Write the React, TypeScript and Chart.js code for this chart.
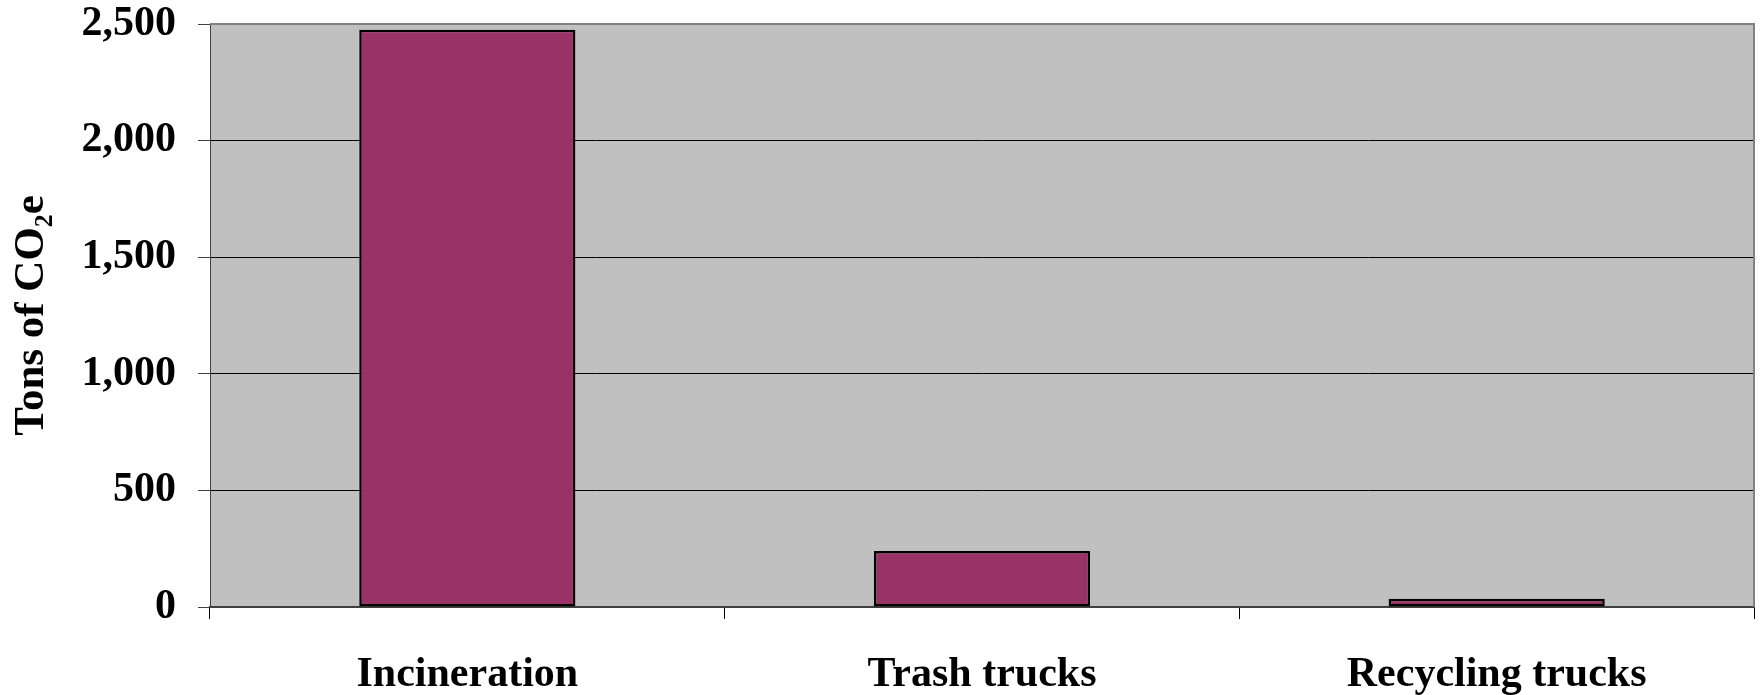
import React, { useEffect, useRef } from "react";
import { Chart, registerables } from "chart.js";

Chart.register(...registerables);

const categories = ["Incineration", "Trash trucks", "Recycling trucks"];
const tonsCO2e = [2475, 240, 35];
const yTickValues = [0, 500, 1000, 1500, 2000, 2500];
const yAxisTitle = "Tons of CO\u2082e";

const FONT = "'Liberation Serif', 'Times New Roman', serif";

const plotBackground = {
  id: "plotBackground",
  beforeDraw(chart: any) {
    const { ctx, chartArea } = chart;
    if (!chartArea) return;
    ctx.save();
    ctx.fillStyle = "#C0C0C0";
    ctx.fillRect(chartArea.left, chartArea.top, chartArea.right - chartArea.left, chartArea.bottom - chartArea.top);
    ctx.restore();
  },
  afterDatasetsDraw(chart: any) {
    const { ctx, chartArea } = chart;
    if (!chartArea) return;
    ctx.save();
    ctx.strokeStyle = "#808080";
    ctx.lineWidth = 2;
    ctx.beginPath();
    ctx.moveTo(chartArea.left, chartArea.top);
    ctx.lineTo(chartArea.right, chartArea.top);
    ctx.lineTo(chartArea.right, chartArea.bottom);
    ctx.stroke();
    ctx.restore();
  },
};

export default function App() {
  const ref = useRef<HTMLCanvasElement>(null);

  useEffect(() => {
    if (!ref.current) return;
    const chart = new Chart(ref.current, {
      type: "bar",
      data: {
        labels: categories,
        datasets: [
          {
            data: tonsCO2e,
            backgroundColor: "#993366",
            borderColor: "#000000",
            borderWidth: 2.5,
            borderSkipped: false,
            categoryPercentage: 1,
            barPercentage: 0.42,
          },
        ],
      },
      options: {
        animation: false,
        responsive: false,
        devicePixelRatio: 1,
        layout: { padding: { top: 0, right: 10, left: 0, bottom: 0 } },
        plugins: {
          legend: { display: false },
          tooltip: { enabled: false },
        },
        scales: {
          x: {
            afterFit(scale: any) {
              scale.height = 88;
            },
            grid: {
              offset: true,
              drawOnChartArea: false,
              tickLength: 12,
              color: "#000000",
              lineWidth: 1,
            },
            border: { display: true, color: "#404040", width: 2 },
            ticks: {
              color: "#000000",
              padding: 31,
              font: { family: FONT, size: 42, weight: "bold" },
            },
          },
          y: {
            min: 0,
            max: 2500,
            afterBuildTicks(scale: any) {
              scale.ticks = yTickValues.map((v) => ({ value: v }));
            },
            afterFit(scale: any) {
              scale.width = 210;
              scale.paddingTop = 24;
            },
            grid: {
              tickLength: 12,
              color: (c: any) => (c.tick && c.tick.value === 2500 ? "#808080" : "#000000"),
              tickColor: "#404040",
              lineWidth: 1,
            },
            border: { display: true, color: "#404040", width: 1 },
            ticks: {
              color: "#000000",
              padding: 22,
              font: { family: FONT, size: 42, weight: "bold" },
              callback: (v: any) => Number(v).toLocaleString("en-US"),
            },
            title: {
              display: true,
              text: yAxisTitle,
              color: "#000000",
              padding: { top: 7, bottom: 0 },
              font: { family: FONT, size: 43, weight: "bold", lineHeight: 1.15 },
            },
          },
        },
      },
      plugins: [plotBackground],
    });
    return () => chart.destroy();
  }, []);

  return (
    <div style={{ position: "fixed", left: 0, top: 0, width: 1764, height: 695, background: "#ffffff" }}>
      <canvas ref={ref} width={1764} height={695} style={{ display: "block", width: 1764, height: 695 }} />
    </div>
  );
}
